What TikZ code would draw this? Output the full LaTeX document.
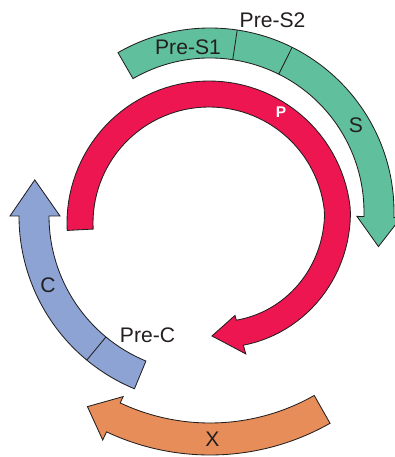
\documentclass[tikz,border=0pt]{standalone}
\usepackage{fontspec}
\setmainfont{Liberation Sans}
\usepackage{xcolor}
\definecolor{GeneGreen}{HTML}{60C09E}
\definecolor{GeneRed}{HTML}{EE1651}
\definecolor{GeneBlue}{HTML}{8CA3D4}
\definecolor{GeneOrange}{HTML}{E68D59}
\definecolor{InkGray}{HTML}{231F20}

\begin{document}
\begin{tikzpicture}[x=0.025cm, y=-0.025cm, gene/.style={draw=InkGray, line width=0.6pt, line join=miter}, genelabel/.style={font=\fontsize{15}{17}\selectfont, text=InkGray, inner sep=0pt}]
    \useasboundingbox (0,0) rectangle (394,457);

    % P: polymerase, spirals slightly inwards at its head
    \begin{scope}[shift={(209,223)}]
        \draw[gene, fill=GeneRed] plot[domain=177:434.3, samples=90] (\x:{116-0.19*max(0,\x-355)})
            -- (434.3:96) -- (448.5:113) -- (434.3:136)
            -- plot[domain=434.3:177, samples=90] (\x:{142-0.19*max(0,\x-355)}) -- cycle;
    \end{scope}

    % Pre-S1 / Pre-S2 / S
    \begin{scope}[shift={(210,212)}]
        \draw[gene, fill=GeneGreen] (240:154) arc[start angle=240, end angle=361.7, radius=154]
            -- (361.7:147) -- (371.6:172) -- (361.7:191) -- (361.7:184)
            arc[start angle=361.7, end angle=240, radius=184] -- cycle;
        \draw[gene] (278.5:154) -- (278.5:184);
        \draw[gene] (296.5:154) -- (296.5:184);
    \end{scope}

    % Pre-C / C
    \begin{scope}[shift={(206,216)}]
        \draw[gene, fill=GeneBlue] (112.5:157) arc[start angle=112.5, end angle=180, radius=157]
            -- (180:146) -- (191.9:175) -- (180:196) -- (180:187)
            arc[start angle=180, end angle=112.5, radius=187] -- cycle;
        \draw[gene] (129.6:157) -- (129.6:187);
    \end{scope}

    % X
    \begin{scope}[shift={(210,212)}]
        \draw[gene, fill=GeneOrange] (60.4:211) arc[start angle=60.4, end angle=115.2, radius=211]
            -- (115.2:204) -- (122.2:230) -- (115.2:252) -- (115.2:243)
            arc[start angle=115.2, end angle=60.4, radius=243] -- cycle;
    \end{scope}

    \node[genelabel] (preS1) at (188,47.5) {Pre-S1};
    \node[genelabel] (preS2) at (272.5,20.5) {Pre-S2};
    \node[genelabel] (sgene) at (356,125) {S};
    \node[genelabel, font=\fontsize{11}{13}\selectfont\bfseries, text=white] (pgene) at (281,112.5) {P};
    \node[genelabel] (cgene) at (48,285) {C};
    \node[genelabel] (preC) at (147.5,335) {Pre-C};
    \node[genelabel] (xgene) at (212.5,439.5) {X};
\end{tikzpicture}
\end{document}
